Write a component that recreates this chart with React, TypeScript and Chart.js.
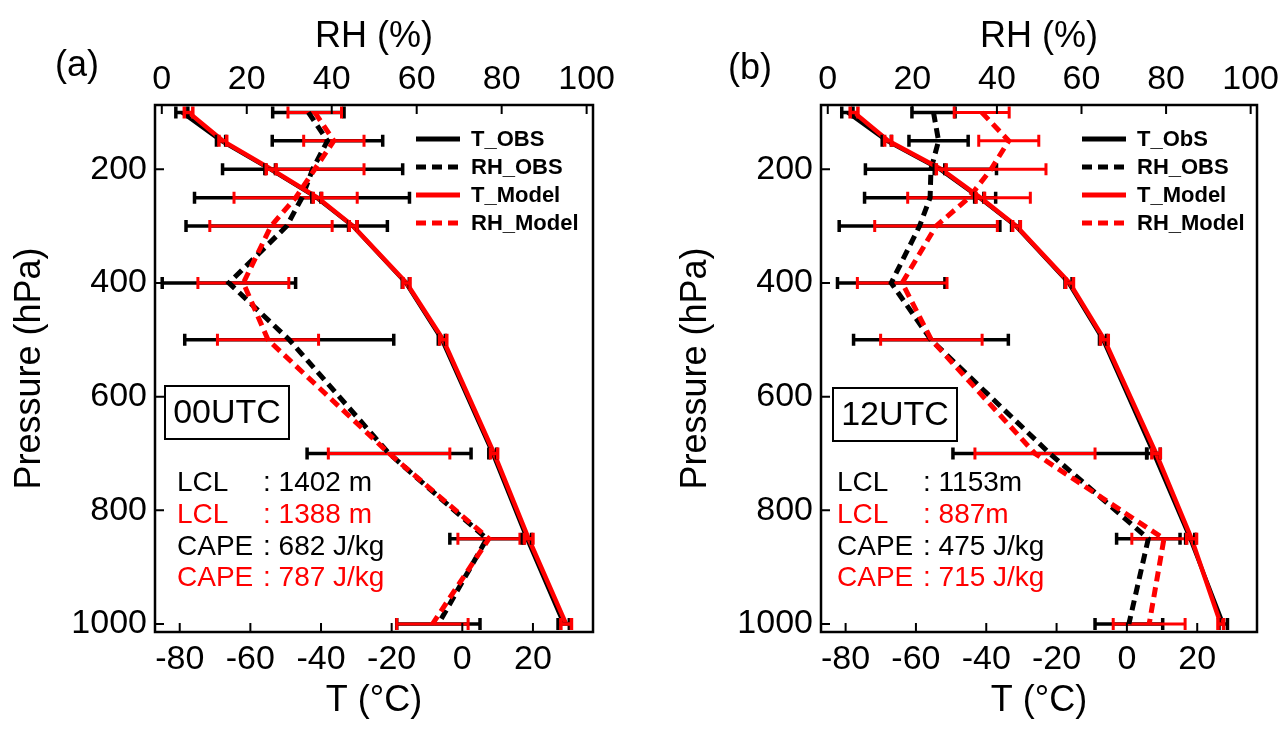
import React, { useEffect, useRef } from "react";
import { Chart, registerables } from "chart.js";

Chart.register(...registerables);

// Pressure levels of the composite soundings (hPa)
const PRESSURE = [100, 150, 200, 250, 300, 400, 500, 700, 850, 1000];

// Axis tick values
const T_TICKS = [-80, -60, -40, -20, 0, 20];
const RH_TICKS = [0, 20, 40, 60, 80, 100];
const P_TICKS = [200, 400, 600, 800, 1000];

// 00 UTC profiles
const T_OBS_00 = [-79.4, -68.3, -54.4, -41.3, -31.0, -16.0, -5.8, 8.6, 18.3, 28.7];
const T_OBS_ERR_00 = [1.7, 1.3, 1.5, 1.3, 1.2, 1.0, 1.0, 1.1, 1.3, 1.6];
const RH_OBS_00 = [34.5, 39.0, 35.5, 33.0, 29.4, 15.8, 30.0, 53.5, 76.5, 65.1];
const RH_OBS_ERR_00 = [8.4, 13.0, 21.2, 25.3, 23.7, 15.7, 24.6, 19.3, 8.7, 9.8];
const T_MOD_00 = [-77.5, -67.8, -54.1, -41.0, -30.9, -15.8, -5.4, 9.0, 18.8, 29.4];
const T_MOD_ERR_00 = [1.2, 1.1, 1.4, 1.2, 1.1, 1.0, 1.0, 1.0, 1.2, 1.5];
const RH_MOD_00 = [36.0, 40.5, 36.0, 31.5, 25.7, 19.2, 25.0, 53.5, 77.0, 63.7];
const RH_MOD_ERR_00 = [6.3, 7.1, 11.6, 14.5, 14.4, 10.7, 11.9, 14.3, 7.3, 8.4];

// 12 UTC profiles
const T_OBS_12 = [-79.5, -68.3, -53.3, -42.0, -31.6, -16.6, -6.8, 7.6, 18.0, 27.4];
const T_OBS_ERR_12 = [1.6, 1.3, 1.5, 1.3, 1.2, 1.0, 1.0, 1.9, 1.3, 1.2];
const RH_OBS_12 = [25.0, 26.2, 24.4, 24.2, 21.7, 15.0, 24.4, 52.5, 75.8, 71.2];
const RH_OBS_ERR_12 = [5.1, 7.0, 15.5, 15.5, 19.0, 12.7, 18.3, 22.9, 7.5, 8.0];
const T_MOD_12 = [-77.6, -67.9, -52.8, -41.7, -31.4, -16.3, -6.4, 8.3, 18.4, 26.7];
const T_MOD_ERR_12 = [1.1, 1.0, 1.4, 1.2, 1.1, 1.1, 1.1, 1.2, 1.4, 0.8];
const RH_MOD_12 = [36.4, 42.8, 38.6, 33.4, 25.6, 17.6, 24.5, 49.0, 79.5, 76.0];
const RH_MOD_ERR_12 = [6.5, 7.1, 13.0, 14.5, 14.5, 10.6, 12.0, 14.2, 7.6, 8.5];

// Series names shown in each legend
const LEGEND_00 = ["T_OBS", "RH_OBS", "T_Model", "RH_Model"];
const LEGEND_12 = ["T_ObS", "RH_OBS", "T_Model", "RH_Model"];

// Lifting condensation level and CAPE annotations
const INFO_NAMES = ["LCL", "LCL", "CAPE", "CAPE"];
const INFO_00 = ["1402 m", "1388 m", "682 J/kg", "787 J/kg"];
const INFO_12 = ["1153m", "887m", "475 J/kg", "715 J/kg"];
const INFO_COLORS = ["#000000", "#ff0000", "#000000", "#ff0000"];

const FONT = "'Liberation Sans', Arial, Helvetica, sans-serif";
const BLACK = "#000000";
const RED = "#ff0000";

type PanelProps = {
  tag: string;
  utc: string;
  tObs: number[];
  tObsErr: number[];
  rhObs: number[];
  rhObsErr: number[];
  tMod: number[];
  tModErr: number[];
  rhMod: number[];
  rhModErr: number[];
  legend: string[];
  info: string[];
  left: number;
  padRight: number;
  tagPos: [number, number];
  boxOffset: [number, number];
  infoOffset: [number, number];
};

function drawBars(
  ctx: CanvasRenderingContext2D,
  xs: any,
  ys: any,
  vals: number[],
  errs: number[],
  color: string,
  width: number,
  cap: number
) {
  ctx.strokeStyle = color;
  ctx.lineWidth = width;
  ctx.beginPath();
  vals.forEach((v, i) => {
    const y = ys.getPixelForValue(PRESSURE[i]);
    const x1 = xs.getPixelForValue(v - errs[i]);
    const x2 = xs.getPixelForValue(v + errs[i]);
    ctx.moveTo(x1, y);
    ctx.lineTo(x2, y);
    ctx.moveTo(x1, y - cap);
    ctx.lineTo(x1, y + cap);
    ctx.moveTo(x2, y - cap);
    ctx.lineTo(x2, y + cap);
  });
  ctx.stroke();
}

function makeOverlay(p: PanelProps) {
  return {
    id: "profileOverlay",
    beforeDatasetsDraw(chart: any) {
      const { ctx } = chart;
      const xs = chart.scales.x2;
      const ys = chart.scales.y;
      ctx.save();
      drawBars(ctx, xs, ys, p.rhObs, p.rhObsErr, BLACK, 3.5, 6);
      drawBars(ctx, xs, ys, p.rhMod, p.rhModErr, RED, 3, 6);
      ctx.restore();
    },
    afterDatasetsDraw(chart: any) {
      const { ctx } = chart;
      const xs = chart.scales.x;
      const ys = chart.scales.y;
      ctx.save();
      drawBars(ctx, xs, ys, p.tObs, p.tObsErr, BLACK, 3.5, 6);
      drawBars(ctx, xs, ys, p.tMod, p.tModErr, RED, 3.5, 6);
      ctx.restore();
    },
    afterDraw(chart: any) {
      const { ctx, chartArea: a } = chart;
      ctx.save();
      // frame
      ctx.strokeStyle = BLACK;
      ctx.lineWidth = 2.5;
      ctx.strokeRect(a.left, a.top, a.right - a.left, a.bottom - a.top);
      // inward tick marks
      ctx.lineWidth = 2;
      ctx.beginPath();
      chart.scales.x.ticks.forEach((t: any) => {
        const x = chart.scales.x.getPixelForValue(t.value);
        ctx.moveTo(x, a.bottom);
        ctx.lineTo(x, a.bottom - 9);
      });
      chart.scales.x2.ticks.forEach((t: any) => {
        const x = chart.scales.x2.getPixelForValue(t.value);
        ctx.moveTo(x, a.top);
        ctx.lineTo(x, a.top + 9);
      });
      chart.scales.y.ticks.forEach((t: any) => {
        const y = chart.scales.y.getPixelForValue(t.value);
        ctx.moveTo(a.left, y);
        ctx.lineTo(a.left + 9, y);
      });
      ctx.stroke();

      // legend
      const rows = [34, 62, 90, 118];
      ctx.font = `bold 22px ${FONT}`;
      ctx.textBaseline = "middle";
      ctx.textAlign = "left";
      chart.data.datasets.forEach((ds: any, i: number) => {
        const y = a.top + rows[i];
        ctx.strokeStyle = ds.borderColor;
        ctx.lineWidth = 5;
        ctx.setLineDash(ds.borderDash || []);
        ctx.beginPath();
        ctx.moveTo(a.left + 261, y);
        ctx.lineTo(a.left + 305, y);
        ctx.stroke();
        ctx.setLineDash([]);
        ctx.fillStyle = BLACK;
        ctx.fillText(ds.label, a.left + 316, y + 1);
      });

      // time box
      const bx = a.left + p.boxOffset[0];
      const by = p.boxOffset[1];
      ctx.lineWidth = 2;
      ctx.strokeStyle = BLACK;
      ctx.strokeRect(bx, by, 124, 53);
      ctx.font = `34px ${FONT}`;
      ctx.textAlign = "center";
      ctx.fillStyle = BLACK;
      ctx.fillText(p.utc, bx + 62, by + 28);

      // LCL / CAPE block
      ctx.font = `28px ${FONT}`;
      ctx.textAlign = "left";
      const infoRows = [483, 515, 547, 578];
      INFO_NAMES.forEach((name, i) => {
        ctx.fillStyle = INFO_COLORS[i];
        ctx.fillText(name, a.left + p.infoOffset[0], infoRows[i]);
        ctx.fillText(": " + p.info[i], a.left + p.infoOffset[1], infoRows[i]);
      });

      // panel tag
      ctx.fillStyle = BLACK;
      ctx.font = `36px ${FONT}`;
      ctx.textAlign = "center";
      ctx.fillText(p.tag, p.tagPos[0], p.tagPos[1]);
      ctx.restore();
    },
  };
}

function Panel(p: PanelProps) {
  const ref = useRef<HTMLCanvasElement | null>(null);

  useEffect(() => {
    if (!ref.current) return;
    const tickFont = { family: FONT, size: 34 };
    const titleFont = { family: FONT, size: 36, weight: "normal" as const };
    const toPts = (xs: number[]) => xs.map((x, i) => ({ x, y: PRESSURE[i] }));
    const fixTicks = (vals: number[]) => (scale: any) => {
      scale.ticks = vals.map((value) => ({ value }));
    };

    const chart = new Chart(ref.current, {
      type: "scatter",
      data: {
        datasets: [
          {
            label: p.legend[0],
            data: toPts(p.tObs),
            xAxisID: "x",
            yAxisID: "y",
            showLine: true,
            borderColor: BLACK,
            backgroundColor: BLACK,
            borderWidth: 4,
            pointRadius: 0,
            order: 3,
          },
          {
            label: p.legend[1],
            data: toPts(p.rhObs),
            xAxisID: "x2",
            yAxisID: "y",
            showLine: true,
            borderColor: BLACK,
            backgroundColor: BLACK,
            borderWidth: 5,
            borderDash: [10, 6],
            pointRadius: 0,
            order: 4,
          },
          {
            label: p.legend[2],
            data: toPts(p.tMod),
            xAxisID: "x",
            yAxisID: "y",
            showLine: true,
            borderColor: RED,
            backgroundColor: RED,
            borderWidth: 4.5,
            pointRadius: 0,
            order: 1,
          },
          {
            label: p.legend[3],
            data: toPts(p.rhMod),
            xAxisID: "x2",
            yAxisID: "y",
            showLine: true,
            borderColor: RED,
            backgroundColor: RED,
            borderWidth: 5,
            borderDash: [10, 6],
            pointRadius: 0,
            order: 2,
          },
        ],
      },
      options: {
        animation: false,
        responsive: false,
        maintainAspectRatio: false,
        devicePixelRatio: 1,
        layout: { padding: { left: 0, right: p.padRight, top: 0, bottom: 0 } },
        plugins: {
          legend: { display: false },
          tooltip: { enabled: false },
        },
        scales: {
          x: {
            type: "linear",
            position: "bottom",
            min: -87,
            max: 37,
            afterBuildTicks: fixTicks(T_TICKS),
            afterFit: (s: any) => {
              s.height = 97;
            },
            grid: { display: false, drawTicks: false },
            border: { display: false },
            ticks: {
              font: tickFont,
              color: BLACK,
              padding: 7,
              maxRotation: 0,
              autoSkip: false,
              callback: (v: any) => String(v),
            },
            title: {
              display: true,
              text: "T (°C)",
              font: titleFont,
              color: BLACK,
              padding: { top: 0, bottom: 6 },
            },
          },
          x2: {
            type: "linear",
            position: "top",
            min: -1.6,
            max: 101.5,
            afterBuildTicks: fixTicks(RH_TICKS),
            afterFit: (s: any) => {
              s.height = 105;
            },
            grid: { display: false, drawTicks: false },
            border: { display: false },
            ticks: {
              font: tickFont,
              color: BLACK,
              padding: 5,
              maxRotation: 0,
              autoSkip: false,
              callback: (v: any) => String(v),
            },
            title: {
              display: true,
              text: "RH (%)",
              font: titleFont,
              color: BLACK,
              padding: { top: 15, bottom: 0 },
            },
          },
          y: {
            type: "linear",
            position: "left",
            reverse: true,
            min: 87,
            max: 1014,
            afterBuildTicks: fixTicks(P_TICKS),
            afterFit: (s: any) => {
              s.width = 155;
            },
            grid: { display: false, drawTicks: false },
            border: { display: false },
            ticks: {
              font: tickFont,
              color: BLACK,
              padding: 8,
              autoSkip: false,
              callback: (v: any) => String(v),
            },
            title: {
              display: true,
              text: "Pressure (hPa)",
              font: titleFont,
              color: BLACK,
              padding: { top: 8, bottom: 0 },
            },
          },
        },
      },
      plugins: [makeOverlay(p)],
    } as any);

    return () => chart.destroy();
  }, []);

  return (
    <canvas
      ref={ref}
      width={640}
      height={729}
      style={{ position: "absolute", left: p.left, top: 0, width: 640, height: 729 }}
    />
  );
}

export default function App() {
  return (
    <div
      style={{
        position: "fixed",
        left: 0,
        top: 0,
        width: 1284,
        height: 729,
        background: "#ffffff",
        overflow: "hidden",
      }}
    >
      <Panel
        tag="(a)"
        utc="00UTC"
        tObs={T_OBS_00}
        tObsErr={T_OBS_ERR_00}
        rhObs={RH_OBS_00}
        rhObsErr={RH_OBS_ERR_00}
        tMod={T_MOD_00}
        tModErr={T_MOD_ERR_00}
        rhMod={RH_MOD_00}
        rhModErr={RH_MOD_ERR_00}
        legend={LEGEND_00}
        info={INFO_00}
        left={0}
        padRight={47}
        tagPos={[77, 66]}
        boxOffset={[10, 386]}
        infoOffset={[22, 108]}
      />
      <Panel
        tag="(b)"
        utc="12UTC"
        tObs={T_OBS_12}
        tObsErr={T_OBS_ERR_12}
        rhObs={RH_OBS_12}
        rhObsErr={RH_OBS_ERR_12}
        tMod={T_MOD_12}
        tModErr={T_MOD_ERR_12}
        rhMod={RH_MOD_12}
        rhModErr={RH_MOD_ERR_12}
        legend={LEGEND_12}
        info={INFO_12}
        left={666}
        padRight={49}
        tagPos={[84, 69]}
        boxOffset={[12, 388]}
        infoOffset={[16, 102]}
      />
    </div>
  );
}
